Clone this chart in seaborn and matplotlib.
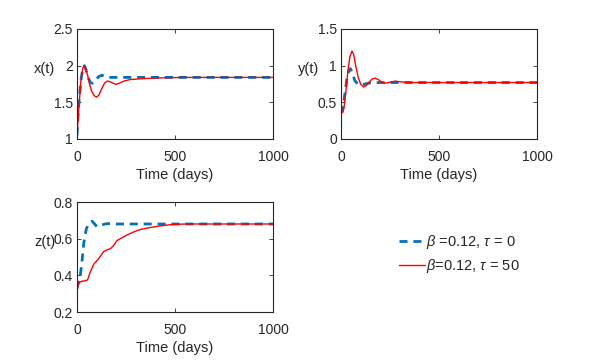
import numpy as np
import pandas as pd
import matplotlib
matplotlib.use("Agg")
import matplotlib.pyplot as plt
import seaborn as sns

# x(t)
t_x_blue = [0, 5, 10, 20, 30, 38, 45, 55, 68, 80, 95, 110, 128, 145, 170, 250, 1000]
x_blue = [1.05, 1.3, 1.5, 1.8, 1.97, 2.0, 1.95, 1.85, 1.77, 1.76, 1.80, 1.85, 1.87, 1.85, 1.84, 1.84, 1.84]
t_x_red = [0, 5, 10, 20, 30, 37, 45, 55, 65, 75, 88, 100, 112, 125, 140, 155, 170, 185, 200,
           215, 240, 270, 320, 380, 450, 550, 1000]
x_red = [1.05, 1.25, 1.45, 1.8, 1.97, 2.0, 1.96, 1.86, 1.74, 1.65, 1.59, 1.57, 1.6, 1.68, 1.76,
         1.79, 1.78, 1.76, 1.745, 1.76, 1.79, 1.81, 1.82, 1.83, 1.835, 1.84, 1.84]

# y(t)
t_y_blue = [0, 5, 12, 20, 30, 40, 48, 58, 70, 85, 107, 130, 150, 200, 1000]
y_blue = [0.4, 0.37, 0.45, 0.62, 0.82, 0.93, 0.96, 0.9, 0.8, 0.75, 0.74, 0.755, 0.765, 0.77, 0.77]
t_y_red = [0, 8, 15, 25, 35, 45, 56, 65, 75, 88, 100, 116, 130, 145, 160, 175, 190, 205, 226,
           250, 277, 300, 350, 1000]
y_red = [0.4, 0.36, 0.42, 0.65, 0.92, 1.12, 1.2, 1.15, 1.0, 0.84, 0.75, 0.71, 0.73, 0.78, 0.82,
         0.83, 0.81, 0.78, 0.76, 0.775, 0.79, 0.78, 0.77, 0.77]

# z(t)
t_z_blue = [0, 10, 17, 25, 35, 48, 60, 77, 90, 102, 125, 153, 200, 1000]
z_blue = [0.327, 0.37, 0.4, 0.47, 0.58, 0.655, 0.68, 0.695, 0.68, 0.665, 0.675, 0.682, 0.68, 0.68]
t_z_red = [0, 10, 25, 40, 54, 65, 85, 110, 136, 155, 170, 185, 204, 230, 255, 290, 323, 360,
           408, 450, 493, 560, 629, 1000]
z_red = [0.33, 0.36, 0.368, 0.37, 0.375, 0.41, 0.46, 0.49, 0.53, 0.54, 0.545, 0.56, 0.59, 0.605,
         0.62, 0.637, 0.65, 0.658, 0.667, 0.673, 0.678, 0.68, 0.68, 0.68]

blue = (0, 0.447, 0.741)
red = "red"
lbl_blue = r"$\beta$ =0.12, $\tau$ = 0"
lbl_red = r"$\beta$=0.12, $\tau$ = 50"

sns.set_style("ticks")
plt.rcParams["font.family"] = ["Liberation Sans", "DejaVu Sans"]
plt.rcParams["mathtext.fontset"] = "custom"
plt.rcParams["mathtext.it"] = "Liberation Sans:italic"

fig = plt.figure(figsize=(5.99, 3.64), dpi=100)
W, H = 599, 364


def add_ax(l, r, t, b):
    return fig.add_axes([l / W, 1 - b / H, (r - l) / W, (b - t) / H])


ax1 = add_ax(77, 273, 29, 139)
ax2 = add_ax(341, 537, 29, 139)
ax3 = add_ax(77, 273, 202, 312)

panels = [
    (ax1, t_x_blue, x_blue, t_x_red, x_red, "x(t)", [1, 1.5, 2, 2.5], ["1", "1.5", "2", "2.5"]),
    (ax2, t_y_blue, y_blue, t_y_red, y_red, "y(t)", [0, 0.5, 1, 1.5], ["0", "0.5", "1", "1.5"]),
    (ax3, t_z_blue, z_blue, t_z_red, z_red, "z(t)", [0.2, 0.4, 0.6, 0.8], ["0.2", "0.4", "0.6", "0.8"]),
]

for ax, tb, vb, tr, vr, lab, yt, ytl in panels:
    sns.lineplot(x=tb, y=vb, ax=ax, color=blue, linewidth=2, linestyle="--",
                 dashes=False, label=lbl_blue, legend=False)
    ax.lines[-1].set_dashes((2.9, 2.1))
    sns.lineplot(x=tr, y=vr, ax=ax, color=red, linewidth=1, label=lbl_red, legend=False)
    ax.set_xlim(0, 1000)
    ax.set_ylim(yt[0], yt[-1])
    ax.set_xticks([0, 500, 1000])
    ax.set_xticklabels(["0", "500", "1000"])
    ax.set_yticks(yt)
    ax.set_yticklabels(ytl)
    ax.tick_params(direction="in", top=True, right=True, labelsize=10, length=3, width=0.6, pad=3)
    ax.tick_params(axis="x", pad=8)
    for s in ax.spines.values():
        s.set_linewidth(0.8)
        s.set_color("#262626")
    ax.set_xlabel("Time (days)", fontsize=10.5, labelpad=2.5)
    ax.set_ylabel(lab, fontsize=10.5, rotation=0)
    ax.yaxis.set_label_coords(-0.165, 0.57)

handles, labels = ax3.get_legend_handles_labels()
fig.legend(handles, labels, loc="upper left", bbox_to_anchor=(386 / W, 1 - 220 / H),
           frameon=False, fontsize=10.5, handlelength=1.75, handletextpad=0.1, labelspacing=0.4)

fig.savefig("out.png", dpi=100)
